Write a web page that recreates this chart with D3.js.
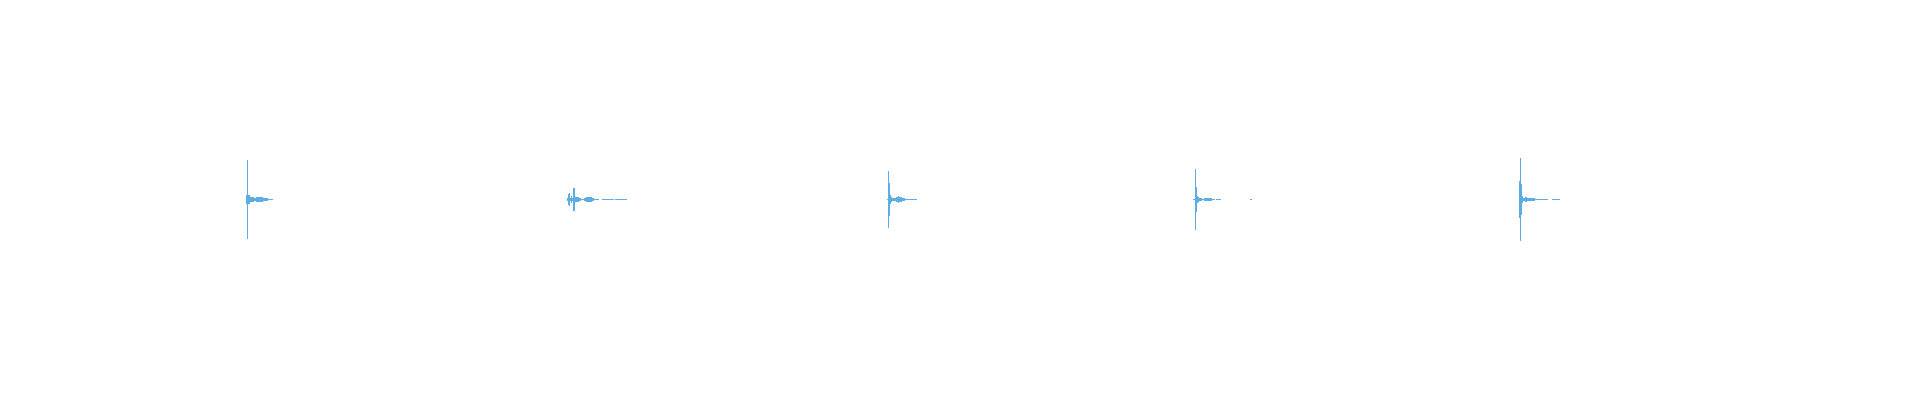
<!DOCTYPE html>
<html>
<head>
<meta charset="utf-8">
<script src="https://cdn.jsdelivr.net/npm/d3@7"></script>
<style>
  html, body { margin: 0; padding: 0; background: #ffffff; }
  svg { display: block; }
</style>
</head>
<body>
<svg id="chart" width="1920" height="400"></svg>
<script>
// Waveform data: amplitude per time bin (peak, symmetric around zero)
const totalBins = 1920;
const burstStarts = [246, 567, 887, 1193, 1519];

const burst1 = [0.022, 0.2, 0.022, 0.022, 0.0125, 0.0125, 0.0125, 0.0125, 0.0065, 0.0065,
  0.0125, 0.012, 0.0125, 0.013, 0.0125, 0.012, 0.0125, 0.0075, 0.0075, 0.007, 0.0075, 0.0075,
  0.0025, 0.0025, 0.0025, 0.0025, 0.0025];

const burst2 = [0.006, 0.027, 0.035, 0.006, 0.019, 0.0075, 0.06, 0.06, 0.014, 0.014,
  0.011, 0.011, 0.0065, 0.0065, 0.0025, 0.0025, 0.0025, 0.01, 0.01, 0.0135, 0.0135, 0.014,
  0.0135, 0.0135, 0.0135, 0.0085, 0.0085, 0.0025, 0.0025, 0.0025, 0.0025, 0.0025, 0, 0, 0,
  0.0025, 0.0025, 0.0025, 0.0025, 0.0025, 0.0025, 0.0025, 0.0025, 0.0025, 0.0025, 0.0025, 0.0025,
  0, 0.0025, 0.0025, 0.0025, 0.0025, 0.0025, 0.0025, 0.0025, 0.0025, 0.0025, 0.0025, 0.0025, 0.0025];

const burst3 = [0.0025, 0.145, 0.085, 0.022, 0.014, 0.01, 0.01, 0.01, 0.01, 0.015, 0.015,
  0.0155, 0.015, 0.015, 0.0145, 0.0065, 0.0065, 0.0065, 0.0025, 0.0025, 0.0025, 0.0025, 0.0025,
  0.0025, 0.0025, 0.0025, 0.0025, 0.0025, 0.0025, 0.0025];

const burst4 = [0.0025, 0.0025, 0.155, 0.065, 0.019, 0.0125, 0.0065, 0.0065, 0.01, 0.0025,
  0.0025, 0.01, 0.01, 0.01, 0.01, 0.01, 0.01, 0.0065, 0.0065, 0.0025, 0.0025, 0.0025, 0,
  0.0025, 0.0025, 0.0025, 0.0025, 0.0025, 0, 0, 0, 0, 0, 0, 0, 0, 0, 0, 0, 0, 0, 0, 0, 0, 0,
  0, 0, 0, 0, 0, 0, 0, 0, 0, 0, 0, 0, 0.0025, 0.0025];

const burst5 = [0.0925, 0.21, 0.08, 0.02, 0.01, 0.01, 0.014, 0.014, 0.01, 0.01, 0.0065, 0.0065,
  0.0085, 0.0085, 0.0085, 0.0085, 0.0025, 0.0025, 0.0025, 0.0025, 0.0025, 0.0025, 0.0025, 0.0025,
  0.0025, 0.0025, 0.0025, 0.0025, 0.0025, 0, 0, 0, 0, 0.0025, 0.0025, 0.0025, 0.0025, 0.0025,
  0.0025, 0.0025, 0.0025];

const bursts = [burst1, burst2, burst3, burst4, burst5];

// Build sample table from the arrays
const samples = [];
bursts.forEach((b, k) => {
  b.forEach((a, i) => samples.push({ t: burstStarts[k] + i, a }));
});

const width = 1920, height = 400;
const svg = d3.select("#chart");

const x = d3.scaleLinear().domain([0, totalBins]).range([0, width]);
const y = d3.scaleLinear().domain([-1, 1]).range([height - 1, 0]);

svg.append("g")
  .attr("fill", "#5dade2")
  .attr("shape-rendering", "crispEdges")
  .selectAll("rect")
  .data(samples.filter(d => d.a > 0))
  .join("rect")
  .attr("x", d => x(d.t))
  .attr("width", x(1) - x(0))
  .attr("y", d => y(d.a))
  .attr("height", d => Math.max(1, y(-d.a) - y(d.a)));
</script>
</body>
</html>
